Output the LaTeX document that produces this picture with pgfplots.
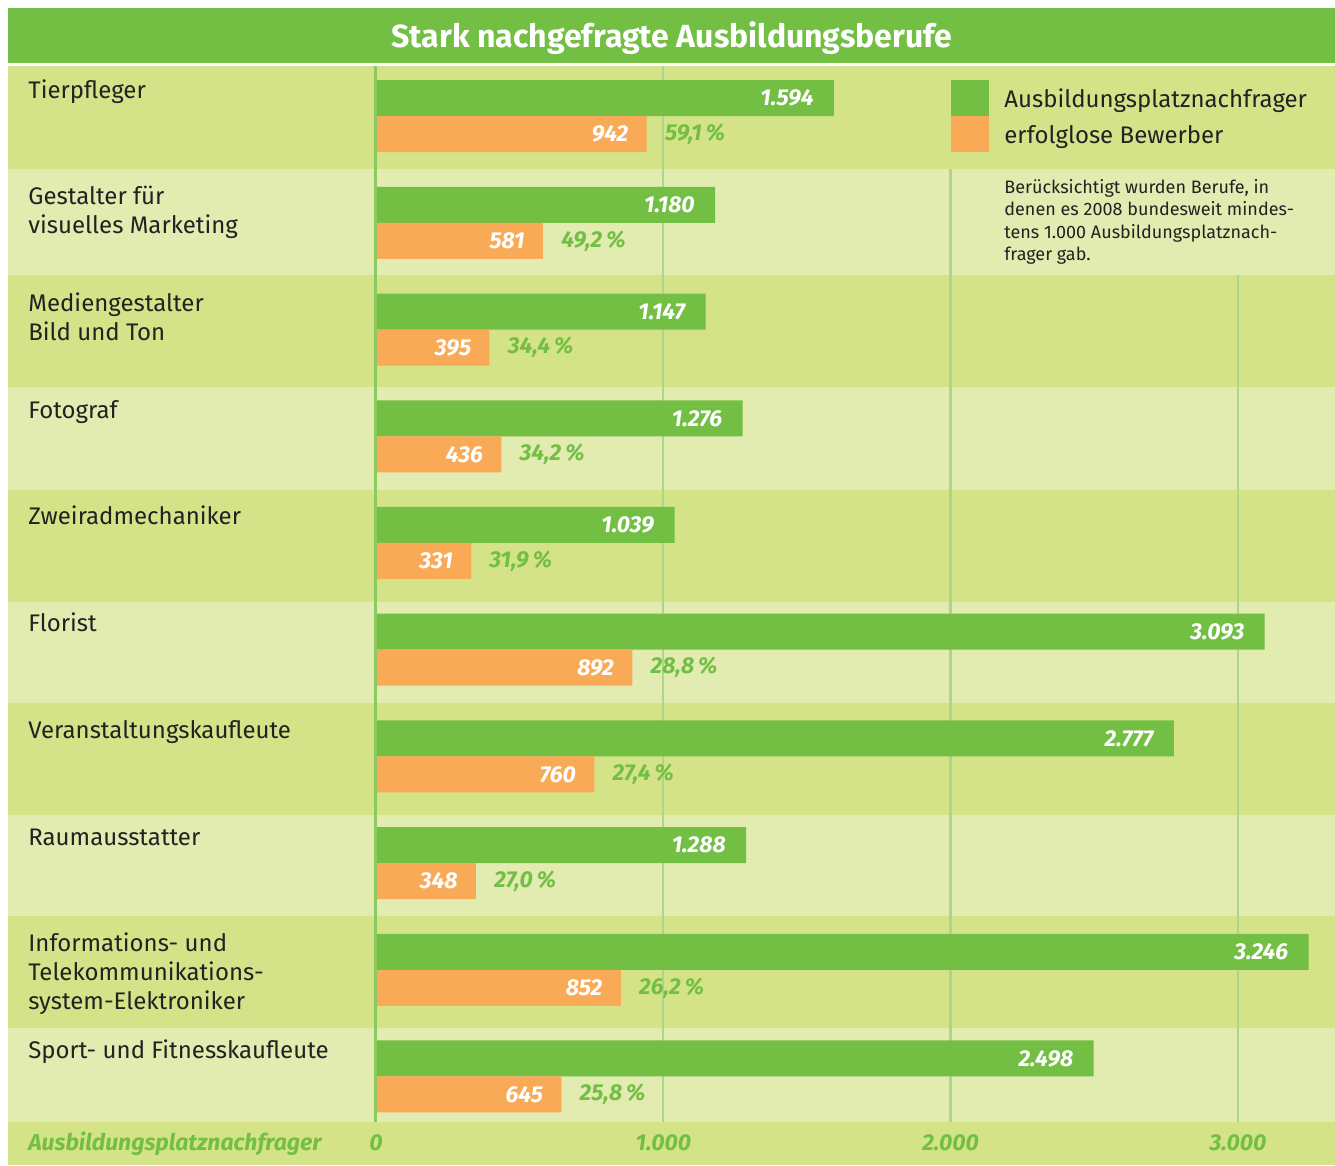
\documentclass[border=0pt]{standalone}
\usepackage{fontspec}
\setmainfont{Fira Sans}
\usepackage{pgfplots}
\pgfplotsset{compat=1.18}
\definecolor{greenbar}{HTML}{72BF44}
\definecolor{orangebar}{HTML}{F9AA56}
\definecolor{banddark}{HTML}{D5E388}
\definecolor{bandlight}{HTML}{E2EBB0}
\definecolor{zeroline}{HTML}{8CC95F}
\definecolor{gridline}{HTML}{A8D88C}
\definecolor{textdark}{HTML}{222222}
\newcommand{\numfont}{\bfseries\itshape\fontsize{11.5}{13}\selectfont}
\newcommand{\labfont}{\fontsize{12}{14}\selectfont}
\begin{document}
\begin{tikzpicture}
\begin{axis}[
  set layers,
  scale only axis, width=667.5pt, height=582.5pt,
  xmin=-1308.7, xmax=3338.0, ymin=0, ymax=1165,
  hide y axis,
  x axis line style={draw=none},
  major tick length=0pt,
  xtick={0,1000,2000,3000},
  xticklabels={0,1.000,2.000,3.000},
  xticklabel style={anchor=base, yshift=7.5pt, font=\numfont, text=greenbar},
  clip=false,
]
\begin{pgfonlayer}{axis background}
% background
\fill[white] (axis cs:-1308.7,0) rectangle (axis cs:3338.0,1165);
\fill[greenbar] (axis cs:-1280.9,1102) rectangle (axis cs:3338.0,1157);
\fill[banddark]  (axis cs:-1280.9,996) rectangle (axis cs:3338.0,1099);
\fill[bandlight] (axis cs:-1280.9,890) rectangle (axis cs:3338.0,996);
\fill[banddark]  (axis cs:-1280.9,778) rectangle (axis cs:3338.0,890);
\fill[bandlight] (axis cs:-1280.9,675) rectangle (axis cs:3338.0,778);
\fill[banddark]  (axis cs:-1280.9,563) rectangle (axis cs:3338.0,675);
\fill[bandlight] (axis cs:-1280.9,462) rectangle (axis cs:3338.0,563);
\fill[banddark]  (axis cs:-1280.9,350) rectangle (axis cs:3338.0,462);
\fill[bandlight] (axis cs:-1280.9,249) rectangle (axis cs:3338.0,350);
\fill[banddark]  (axis cs:-1280.9,137) rectangle (axis cs:3338.0,249);
\fill[bandlight] (axis cs:-1280.9,43) rectangle (axis cs:3338.0,137);
\fill[banddark]  (axis cs:-1280.9,0) rectangle (axis cs:3338.0,43);
% grid lines
\draw[gridline, line width=1.2pt] (axis cs:1000,43) -- (axis cs:1000,1099);
\draw[gridline, line width=1.2pt] (axis cs:2000,43) -- (axis cs:2000,996);
\draw[gridline, line width=1.2pt] (axis cs:3000,43) -- (axis cs:3000,890);
\end{pgfonlayer}
% title
\node[anchor=base, text=white, font=\bfseries\fontsize{16}{19}\selectfont] at (axis cs:1030.3,1118) {Stark nachgefragte Ausbildungsberufe};
% bars
\addplot[xbar, bar width=18pt, bar shift=0pt, fill=greenbar, draw=none,
  point meta=explicit symbolic, nodes near coords,
  nodes near coords style={anchor=east, xshift=-10pt, inner sep=0pt, text=white, font=\numfont}]
coordinates {(1594,1067)[1.594] (1180,960.3)[1.180] (1147,853.6)[1.147] (1276,746.9)[1.276] (1039,640.2)[1.039]
 (3093,533.5)[3.093] (2777,426.8)[2.777] (1288,320.1)[1.288] (3246,213.4)[3.246] (2498,106.7)[2.498]};
\addplot[xbar, bar width=18pt, bar shift=0pt, fill=orangebar, draw=none,
  point meta=explicit symbolic, nodes near coords,
  nodes near coords style={anchor=east, xshift=-9pt, inner sep=0pt, text=white, font=\numfont}]
coordinates {(942,1031)[942] (581,924.3)[581] (395,817.6)[395] (436,710.9)[436] (331,604.2)[331]
 (892,497.5)[892] (760,390.8)[760] (348,284.1)[348] (852,177.4)[852] (645,70.7)[645]};
\addplot[xbar, bar width=18pt, bar shift=0pt, fill=none, draw=none,
  point meta=explicit symbolic, nodes near coords,
  nodes near coords style={anchor=west, xshift=9pt, inner sep=0pt, text=greenbar, font=\numfont}]
coordinates {(942,1031)[59,1\,\%] (581,924.3)[49,2\,\%] (395,817.6)[34,4\,\%] (436,710.9)[34,2\,\%] (331,604.2)[31,9\,\%]
 (892,497.5)[28,8\,\%] (760,390.8)[27,4\,\%] (348,284.1)[27,0\,\%] (852,177.4)[26,2\,\%] (645,70.7)[25,8\,\%]};
% zero line
\draw[zeroline, line width=1.5pt] (axis cs:0,43) -- (axis cs:0,1099);
% category labels
\begin{scope}[every node/.style={anchor=base west, text=textdark, font=\labfont, inner sep=0pt}]
\node at (axis cs:-1211.3,1067) {Tierpfleger};
\node at (axis cs:-1211.3,960.3) {Gestalter für};
\node at (axis cs:-1211.3,931.3) {visuelles Marketing};
\node at (axis cs:-1211.3,853.6) {Mediengestalter};
\node at (axis cs:-1211.3,824.6) {Bild und Ton};
\node at (axis cs:-1211.3,746.9) {Fotograf};
\node at (axis cs:-1211.3,640.2) {Zweiradmechaniker};
\node at (axis cs:-1211.3,533.5) {Florist};
\node at (axis cs:-1211.3,426.8) {Veranstaltungskaufleute};
\node at (axis cs:-1211.3,320.1) {Raumausstatter};
\node at (axis cs:-1211.3,213.4) {Informations- und};
\node at (axis cs:-1211.3,184.4) {Telekommunikations-};
\node at (axis cs:-1211.3,155.4) {system-Elektroniker};
\node at (axis cs:-1211.3,106.7) {Sport- und Fitnesskaufleute};
% legend
\node at (axis cs:2185.9,1058) {Ausbildungsplatznachfrager};
\node at (axis cs:2185.9,1022) {erfolglose Bewerber};
\end{scope}
\fill[greenbar] (axis cs:2001.4,1049) rectangle (axis cs:2133.7,1085);
\fill[orangebar] (axis cs:2001.4,1013) rectangle (axis cs:2133.7,1049);
% note
\begin{scope}[every node/.style={anchor=base west, text=textdark, font=\fontsize{9}{11}\selectfont, inner sep=0pt}]
\node at (axis cs:2185.9,972) {Berücksichtigt wurden Berufe, in};
\node at (axis cs:2185.9,949.5) {denen es 2008 bundesweit mindes-};
\node at (axis cs:2185.9,927) {tens 1.000 Ausbildungsplatznach-};
\node at (axis cs:2185.9,904.5) {frager gab.};
\end{scope}
\node[anchor=base west, inner sep=0pt, text=greenbar, font=\numfont] at (axis cs:-1211.3,15) {Ausbildungsplatznachfrager};
\end{axis}
\end{tikzpicture}
\end{document}
